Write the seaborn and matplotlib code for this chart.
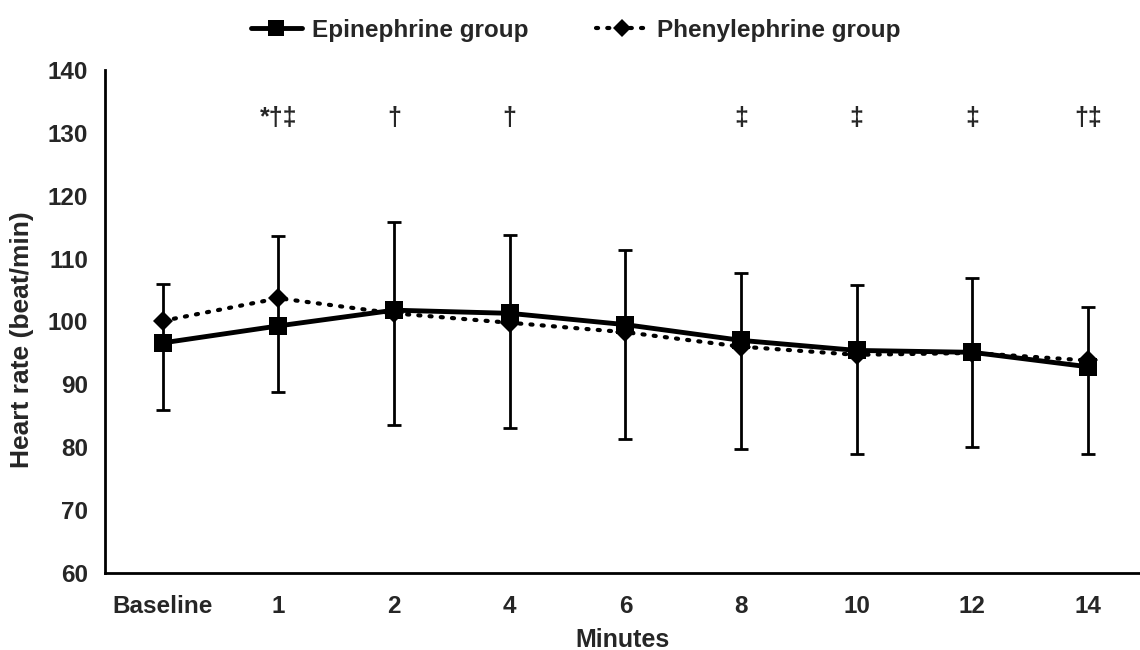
import numpy as np
import pandas as pd
import matplotlib
matplotlib.use('Agg')
import matplotlib.pyplot as plt
import seaborn as sns
from matplotlib.lines import Line2D

# Data
minutes = ['Baseline', '1', '2', '4', '6', '8', '10', '12', '14']
epinephrine = [96.6, 99.3, 101.8, 101.3, 99.5, 97.0, 95.4, 95.1, 92.8]
phenylephrine = [100.1, 103.7, 101.3, 99.8, 98.3, 96.0, 94.7, 95.0, 93.8]
bar_upper = [106.0, 113.6, 115.9, 113.7, 111.3, 107.7, 105.8, 106.9, 102.3]
bar_lower = [86.0, 88.8, 83.5, 83.0, 81.3, 79.8, 79.0, 80.0, 79.0]
marks = ['', '*†‡', '†', '†', '', '‡', '‡', '‡', '†‡']

sns.set_style('white')
plt.rcParams['font.family'] = ['Liberation Sans', 'DejaVu Sans']
plt.rcParams['font.weight'] = 'bold'

pos = np.arange(len(minutes))
df = pd.DataFrame({
    'pos': np.concatenate([pos, pos]),
    'hr': epinephrine + phenylephrine,
    'group': ['Epinephrine group'] * len(minutes) + ['Phenylephrine group'] * len(minutes),
})

fig = plt.figure(figsize=(11.4, 6.5), dpi=100)
ax = fig.add_axes([105 / 1140, 1 - 573 / 650, 1 - 105 / 1140, (573 - 70) / 650])

epi = np.array(epinephrine)
ax.errorbar(pos, epi, yerr=[epi - np.array(bar_lower), np.array(bar_upper) - epi],
            fmt='none', ecolor='black', elinewidth=2, capsize=5, capthick=2, zorder=1)

dots = (0, (0.5, 2.2))
sns.lineplot(data=df[df.group == 'Phenylephrine group'], x='pos', y='hr', ax=ax,
             color='black', linewidth=3, linestyle=dots, marker='D',
             markersize=10, markeredgewidth=0, dash_capstyle='round', zorder=2,
             legend=False)
sns.lineplot(data=df[df.group == 'Epinephrine group'], x='pos', y='hr', ax=ax,
             color='black', linewidth=3.5, marker='s', markersize=13.5,
             markeredgewidth=0, zorder=3, legend=False)

for x, m in zip(pos, marks):
    if m:
        ax.text(x, 132.3, m, ha='center', va='center', fontsize=18, fontweight='bold')

ax.set_xlim(-0.5, 8.45)
ax.set_ylim(60, 140)
ax.set_yticks(range(60, 141, 10))
ax.set_xticks(pos)
ax.set_xticklabels(minutes)
ax.tick_params(axis='both', length=0, labelsize=17.5)
ax.tick_params(axis='x', pad=16)
ax.tick_params(axis='y', pad=12)
for lab in ax.get_xticklabels() + ax.get_yticklabels():
    lab.set_fontweight('bold')
ax.set_xlabel('Minutes', fontsize=18, fontweight='bold', labelpad=7)
ax.set_ylabel('Heart rate (beat/min)', fontsize=19, fontweight='bold')
ax.yaxis.set_label_coords(-0.069, 0.463)

for side in ['top', 'right']:
    ax.spines[side].set_visible(False)
for side in ['left', 'bottom']:
    ax.spines[side].set_color('black')
    ax.spines[side].set_linewidth(2)

handles = [
    Line2D([], [], color='black', linewidth=3.5, marker='s', markersize=12, markeredgewidth=0),
    Line2D([], [], color='black', linewidth=3, linestyle=dots, marker='D',
           markersize=9, markeredgewidth=0, dash_capstyle='round'),
]
fig.legend(handles, ['Epinephrine group', 'Phenylephrine group'], loc='upper center',
           bbox_to_anchor=(0.505, 1.005), ncol=2, frameon=False,
           handlelength=2.1, handletextpad=0.4, columnspacing=2.8,
           prop={'weight': 'bold', 'size': 17.5})

fig.savefig('out.png', dpi=100)
